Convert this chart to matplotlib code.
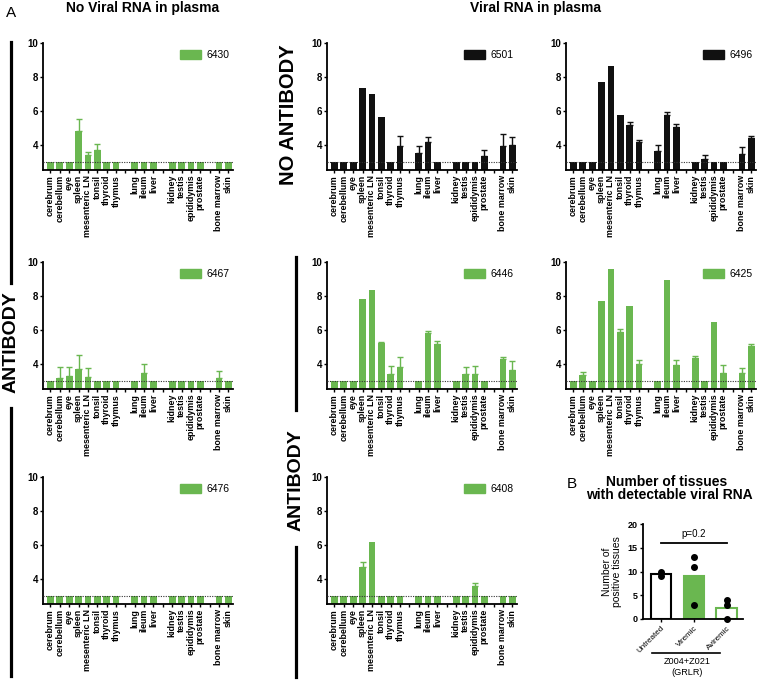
import numpy as np
import matplotlib
matplotlib.use('Agg')
import matplotlib.pyplot as plt
from matplotlib.lines import Line2D
from matplotlib.patches import Patch

plt.rcParams['font.family'] = ['Liberation Sans', 'DejaVu Sans']

W, H = 757, 689
green = '#6ab750'
black = '#111111'

tissues = ['cerebrum', 'cerebellum', 'eye', 'spleen', 'mesenteric LN', 'tonsil', 'thyroid', 'thymus',
           'lung', 'ileum', 'liver',
           'kidney', 'testis', 'epididymis', 'prostate',
           'bone marrow', 'skin']
tissue_group = [0]*8 + [1]*3 + [2]*4 + [3]*2
lod = 3.0

# log10 viral RNA per tissue, and upper error
v6430 = [3, 3, 3, 4.82, 3.41, 3.66, 3, 3, 3, 3, 3, 3, 3, 3, 3, 3, 3]
e6430 = [0, 0, 0, 0.71, 0.16, 0.38, 0, 0, 0, 0, 0, 0, 0, 0, 0, 0, 0]
v6501 = [3, 3, 3, 7.33, 7.0, 5.65, 3, 3.94, 3.51, 4.16, 3, 3, 3, 3, 3.31, 3.9, 3.96]
e6501 = [0, 0, 0, 0, 0, 0, 0, 0.55, 0.39, 0.27, 0, 0, 0, 0, 0.39, 0.73, 0.49]
v6496 = [3, 3, 3, 7.69, 8.67, 5.76, 5.18, 4.14, 3.61, 5.76, 5.02, 3, 3.16, 3, 3, 3.45, 4.39]
e6496 = [0, 0, 0, 0, 0, 0, 0.15, 0.15, 0.35, 0.14, 0.22, 0, 0.21, 0, 0, 0.39, 0.14]
v6467 = [3, 3.15, 3.27, 3.7, 3.2, 3, 3, 3, 3, 3.45, 3, 3, 3, 3, 3, 3.15, 3]
e6467 = [0, 0.65, 0.53, 0.8, 0.56, 0, 0, 0, 0, 0.55, 0, 0, 0, 0, 0, 0.41, 0]
v6446 = [3, 3, 3, 7.8, 8.32, 5.19, 3.4, 3.8, 3, 5.82, 5.15, 3, 3.4, 3.4, 3, 4.26, 3.64]
e6446 = [0, 0, 0, 0, 0, 0.06, 0.44, 0.6, 0, 0.12, 0.18, 0, 0.4, 0.44, 0, 0.14, 0.52]
v6425 = [3, 3.35, 3, 7.7, 9.58, 5.84, 7.4, 4.0, 3, 8.91, 3.94, 4.34, 3, 6.44, 3.47, 3.45, 5.03]
e6425 = [0, 0.15, 0, 0, 0, 0.18, 0, 0.24, 0, 0, 0.26, 0.1, 0, 0, 0.43, 0.31, 0.1]
v6476 = [3]*17
e6476 = [0]*17
v6408 = [3, 3, 3, 4.69, 6.14, 3, 3, 3, 3, 3, 3, 3, 3, 3.54, 3, 3, 3]
e6408 = [0, 0, 0, 0.3, 0, 0, 0, 0, 0, 0, 0, 0, 0, 0.2, 0, 0, 0]

# panel B
groups_b = ['Untreated', 'Viremic', 'Aviremic']
dots_untreated = [10, 9]
dots_viremic = [13, 11, 3]
dots_aviremic = [4, 3, 0]


def fx(x):
    return x / W


def fy(y):
    return 1 - y / H


def add_ax(x0, y0, x1, y1):
    return fig.add_axes([fx(x0), fy(y1), (x1 - x0) / W, (y1 - y0) / H])


fig = plt.figure(figsize=(W / 100, H / 100), dpi=100)

pos = np.arange(len(tissues)) + np.array(tissue_group)
all_ticks = np.arange(pos.max() + 1)
tick_labels = [''] * len(all_ticks)
for p, t in zip(pos, tissues):
    tick_labels[p] = t

panels = [
    ('6430', v6430, e6430, green, 0, 0),
    ('6501', v6501, e6501, black, 0, 1),
    ('6496', v6496, e6496, black, 0, 2),
    ('6467', v6467, e6467, green, 1, 0),
    ('6446', v6446, e6446, green, 1, 1),
    ('6425', v6425, e6425, green, 1, 2),
    ('6476', v6476, e6476, green, 2, 0),
    ('6408', v6408, e6408, green, 2, 1),
]
row_top = [43, 262, 477]
row_bot = [170, 389, 604]
col_left = [43, 327, 566]

for name, vals, errs, col, r, c in panels:
    ax = add_ax(col_left[c], row_top[r], col_left[c] + 190, row_bot[r])
    vals = np.array(vals)
    errs = np.array(errs)
    ax.bar(pos, vals, width=0.72, color=col, zorder=2)
    m = errs > 0
    ax.errorbar(pos[m], vals[m], yerr=[np.zeros(m.sum()), errs[m]], fmt='none',
                ecolor=col, elinewidth=1.0, capsize=2, capthick=1.0, zorder=2)
    ax.axhline(lod, ls=(0, (1, 1.2)), color='#333333', lw=0.8, zorder=3)
    ax.set_ylim(2.5, 10)
    ax.set_xlim(-0.8, 19.5)
    ax.set_yticks([4, 6, 8, 10])
    ax.set_xticks(all_ticks)
    ax.set_xticklabels(tick_labels, rotation=90, fontsize=6.4, fontweight='bold')
    for lab in ax.get_yticklabels():
        lab.set_fontweight('bold')
        lab.set_fontsize(7)
    ax.tick_params(direction='out', length=2.5, width=1, pad=1)
    for s in ['top', 'right']:
        ax.spines[s].set_visible(False)
    for s in ['left', 'bottom']:
        ax.spines[s].set_linewidth(1.3)
    ax.patch.set_alpha(0)
    ax.legend(handles=[Patch(color=col, label=name)], loc='upper right',
              bbox_to_anchor=(1.03, 1.02), frameon=False, fontsize=7.5,
              handlelength=2.0, handleheight=0.9, handletextpad=0.5)

# headings
fig.text(fx(11), fy(17), 'A', fontsize=11, ha='center', va='baseline')
fig.text(fx(143), fy(12), 'No Viral RNA in plasma', fontsize=10, fontweight='bold', ha='center', va='baseline')
fig.text(fx(535), fy(12), 'Viral RNA in plasma', fontsize=10, fontweight='bold', ha='center', va='baseline')

# side labels and bars
fig.text(fx(289), fy(115), 'NO ANTIBODY', fontsize=14.5, fontweight='bold', rotation=90, ha='center', va='center')
fig.text(fx(11), fy(342), 'ANTIBODY', fontsize=14, fontweight='bold', rotation=90, ha='center', va='center')
fig.text(fx(296), fy(480), 'ANTIBODY', fontsize=14, fontweight='bold', rotation=90, ha='center', va='center')
for x, y0, y1 in [(11, 42, 283), (11, 408, 676), (296, 257, 410), (296, 547, 677)]:
    fig.add_artist(Line2D([fx(x), fx(x)], [fy(y0), fy(y1)], transform=fig.transFigure, color='k', lw=2.3))

# panel B
axb = add_ax(643, 524, 743, 619)
means = [np.mean(dots_untreated), np.mean(dots_viremic), np.mean(dots_aviremic)]
xb = np.arange(3)
axb.bar(xb, means, width=0.62, color=['white', green, 'white'],
        edgecolor=['black', green, green], linewidth=1.5, zorder=2)
for i, d in enumerate([dots_untreated, dots_viremic, dots_aviremic]):
    axb.plot([xb[i]] * len(d), d, 'o', color='black', ms=4, zorder=3, clip_on=False)
axb.plot([0, 2], [16, 16], color='black', lw=1.3)
axb.text(1, 16.8, 'p=0.2', ha='center', va='bottom', fontsize=7)
axb.set_ylim(0, 20)
axb.set_xlim(-0.55, 2.5)
axb.set_yticks([0, 5, 10, 15, 20])
axb.set_xticks(xb)
axb.set_xticklabels(groups_b, rotation=45, ha='right', rotation_mode='anchor', fontsize=5.8)
for lab in axb.get_yticklabels():
    lab.set_fontweight('bold')
    lab.set_fontsize(6.5)
axb.tick_params(direction='out', length=2.5, width=1, pad=1.5)
for s in ['top', 'right']:
    axb.spines[s].set_visible(False)
for s in ['left', 'bottom']:
    axb.spines[s].set_linewidth(1.3)
axb.set_ylabel('Number of\npositive tissues', fontsize=7.5, labelpad=4, linespacing=1.0)
axb.patch.set_alpha(0)

fig.text(fx(572), fy(488), 'B', fontsize=11, ha='center', va='baseline')
fig.text(fx(667), fy(486), 'Number of tissues', fontsize=10, fontweight='bold', ha='center', va='baseline')
fig.text(fx(669), fy(499), 'with detectable viral RNA', fontsize=10, fontweight='bold', ha='center', va='baseline')
fig.add_artist(Line2D([fx(652), fx(720)], [fy(653), fy(653)], transform=fig.transFigure, color='k', lw=1.2))
fig.text(fx(687), fy(667), 'Z004+Z021\n(GRLR)', fontsize=6.6, ha='center', va='center', linespacing=1.25)

fig.savefig('out.png', dpi=100)
